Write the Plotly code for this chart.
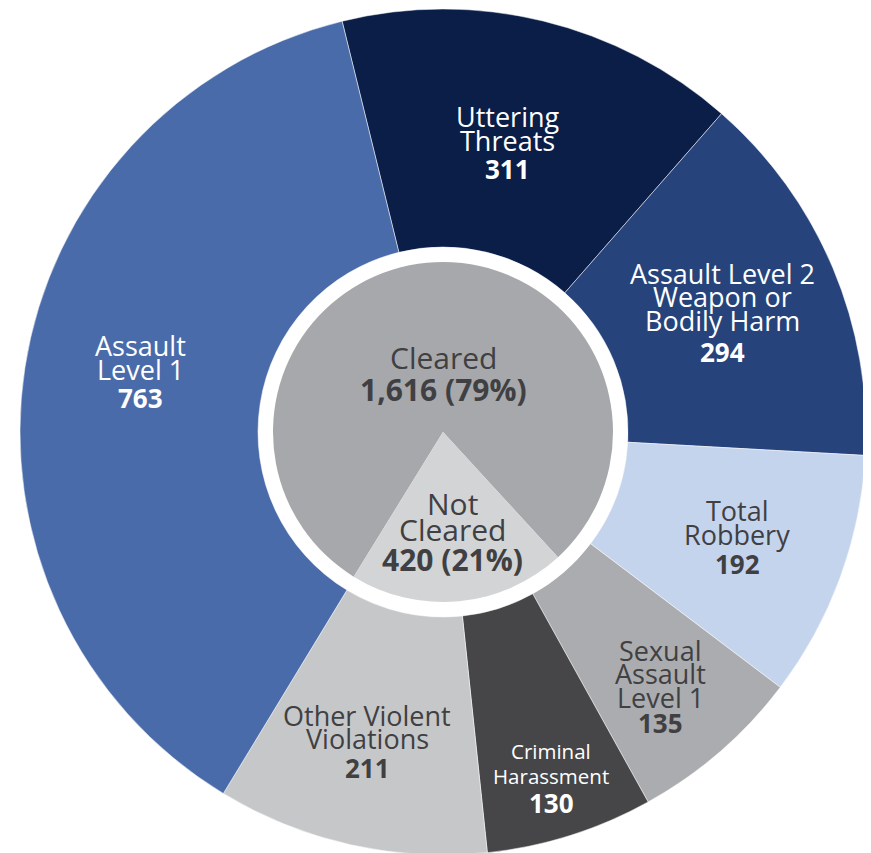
import plotly.graph_objects as go

# -- Violent violations by type (outer ring)
categories = [
    "Uttering<br>Threats",
    "Assault Level 2<br>Weapon or<br>Bodily Harm",
    "Total<br>Robbery",
    "Sexual<br>Assault<br>Level 1",
    "Criminal<br>Harassment",
    "Other Violent<br>Violations",
    "Assault<br>Level 1",
]
counts = [311, 294, 192, 135, 130, 211, 763]

# -- Clearance status (inner pie)
status = ["Cleared", "Not<br>Cleared"]
status_counts = [1616, 420]
status_pct = ["79%", "21%"]

# -- Styling (kept separate from the data)
outer_colors = ["#0b1e48", "#26447b", "#c5d4ed", "#abacaf", "#464648", "#c6c7c9", "#4a6ba9"]
outer_text_colors = ["white", "white", "#404042", "#404042", "white", "#404042", "white"]
outer_label_size = [27, 27, 27, 27, 20.5, 27, 27]
inner_colors = ["#a7a8ab", "#d3d4d6"]
DARK = "#404042"

W, H = 871, 853
OFF = 8  # the page body adds an 8px margin, so screen px = figure px + 8
CX, CY = 443, 432
R_OUT, R_HOLE, R_IN = 423, 185, 170

# label anchors in screen pixels: x centre, first baseline, line pitch, number baseline
outer_label_pos = [
    (508, 126, 24, 178),
    (722, 283, 23.5, 361),
    (737, 520, 24, 573),
    (660, 660, 23.5, 732),
    (551, 758, 25, 812),
    (367, 725, 23, 777),
    (140, 355, 24, 407),
]
inner_label_pos = [
    (443, 368, 26, 400),
    (453, 514, 26, 570),
]


def px_x(x):
    return (x - OFF) / W


def px_y(y):
    return 1 - (y - OFF) / H


def text_ann(x, baseline, txt, size, color, bold=False):
    # place text by baseline: shift centre up by ~0.36em
    return dict(
        x=px_x(x),
        y=px_y(baseline - 0.36 * size),
        xref="paper",
        yref="paper",
        text=f"<b>{txt}</b>" if bold else txt,
        showarrow=False,
        xanchor="center",
        yanchor="middle",
        font=dict(family="Open Sans", size=size, color=color),
    )


fig = go.Figure()

fig.add_trace(
    go.Pie(
        labels=[c.replace("<br>", " ") for c in categories],
        values=counts,
        sort=False,
        direction="clockwise",
        rotation=-13.8,
        hole=R_HOLE / R_OUT,
        textinfo="none",
        marker=dict(colors=outer_colors, line=dict(color="white", width=0.5)),
        domain=dict(
            x=[px_x(CX - R_OUT), min(1, px_x(CX + R_OUT))],
            y=[max(0, px_y(CY + R_OUT)), min(1, px_y(CY - R_OUT))],
        ),
        showlegend=False,
    )
)

fig.add_trace(
    go.Pie(
        labels=[s.replace("<br>", " ") for s in status],
        values=status_counts,
        sort=False,
        direction="clockwise",
        rotation=-148.3,
        textinfo="none",
        marker=dict(colors=inner_colors, line=dict(width=0)),
        domain=dict(
            x=[px_x(CX - R_IN), px_x(CX + R_IN)],
            y=[px_y(CY + R_IN), px_y(CY - R_IN)],
        ),
        showlegend=False,
    )
)

annotations = []
for cat, val, (x, y0, pitch, ynum), col, size in zip(
    categories, counts, outer_label_pos, outer_text_colors, outer_label_size
):
    for i, line in enumerate(cat.split("<br>")):
        annotations.append(text_ann(x, y0 + i * pitch, line, size, col))
    annotations.append(text_ann(x, ynum, f"{val:,}", 26, col, bold=True))

for st, val, pct, (x, y0, pitch, ynum) in zip(status, status_counts, status_pct, inner_label_pos):
    for i, line in enumerate(st.split("<br>")):
        annotations.append(text_ann(x, y0 + i * pitch, line, 30, DARK))
    annotations.append(text_ann(x, ynum, f"{val:,} ({pct})", 30, DARK, bold=True))

fig.update_layout(
    width=W,
    height=H,
    margin=dict(l=0, r=0, t=0, b=0),
    paper_bgcolor="white",
    plot_bgcolor="white",
    annotations=annotations,
    font=dict(family="Open Sans"),
)

fig.write_html("out.html")
